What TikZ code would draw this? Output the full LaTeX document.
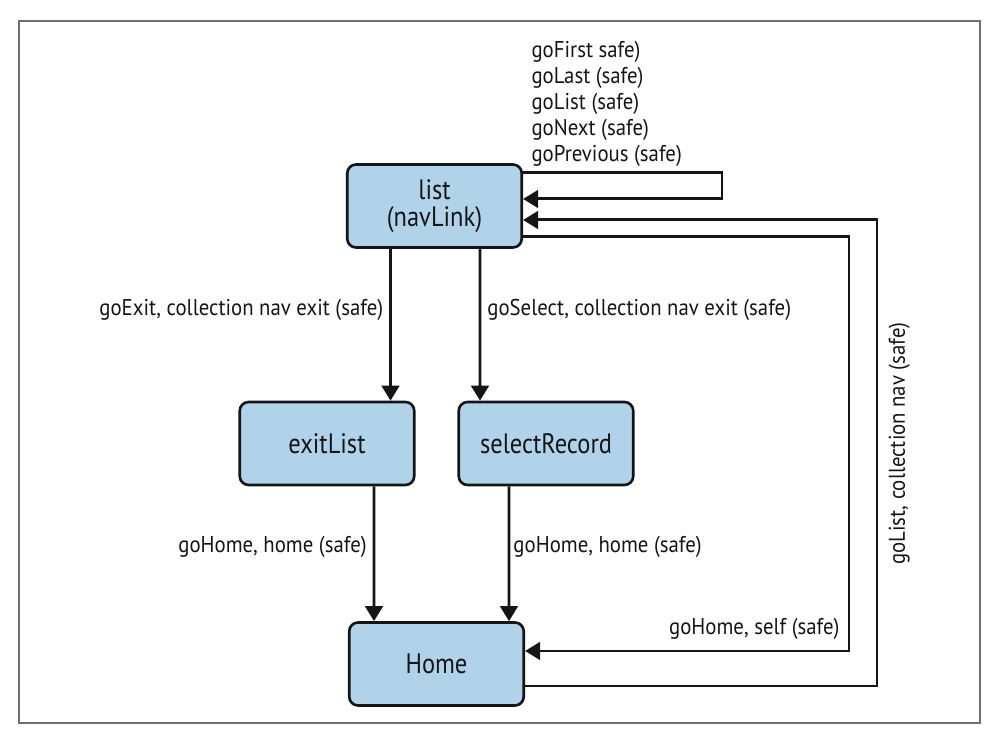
\documentclass[tikz,border=0pt]{standalone}
\usepackage{fontspec}
\setmainfont{PT Sans}
\newfontfamily\notefont[FakeStretch=0.91]{PT Sans}
\newfontfamily\boxfont[FakeStretch=0.87]{PT Sans}
\usetikzlibrary{arrows.meta, positioning}
\definecolor{cbox}{HTML}{B1D3EA}
\definecolor{cframe}{HTML}{6E6E6E}
\definecolor{cink}{HTML}{151515}
\tikzset{
  every picture/.style={line width=1.7pt},
  box/.style={draw=cink, fill=cbox, rounded corners=5pt, line width=1.5pt, align=center, minimum width=3.49cm, minimum height=1.66cm, font=\boxfont\fontsize{16}{15.6}\selectfont, text=cink},
  arrow/.style={-{Triangle[length=0.3cm, width=0.35cm]}, draw=cink, line width=1.7pt},
  note/.style={font=\notefont\fontsize{13}{14.8}\selectfont, text=cink},
}

\begin{document}
\begin{tikzpicture}
  \useasboundingbox (0,0) rectangle (19.96,-14.62);
  \draw[cframe, line width=1.1pt] (0.38,-0.42) rectangle (19.6,-14.46);
  \node[box] (list) at (8.69,-4.12) {list\\ (navLink)};
  \node[box] (exit) at (6.54,-8.87) {exitList};
  \node[box] (select) at (10.92,-8.87) {selectRecord};
  \node[box] (home) at (8.73,-13.28) {Home};
  \coordinate (loopR) at (14.44,-3.98);
  \coordinate (selfR) at (16.98,-13.02);
  \coordinate (navR) at (17.54,-4.40);
  \draw[arrow] ([xshift=-0.88cm]list.south) -- ([xshift=1.27cm]exit.north) node[pos=0.4, left, note] {goExit, collection nav exit (safe)};
  \draw[arrow] ([xshift=0.91cm]list.south) -- ([xshift=-1.32cm]select.north) node[pos=0.4, right, note] {goSelect, collection nav exit (safe)};
  \draw[arrow] ([xshift=0.94cm]exit.south) -- ([xshift=-1.25cm]home.north) node[pos=0.45, left, note] {goHome, home (safe)};
  \draw[arrow] ([xshift=-0.74cm]select.south) -- ([xshift=1.45cm]home.north) node[pos=0.45, right, note, inner sep=0.06cm] {goHome, home (safe)};
  \draw[arrow] ([yshift=0.66cm]list.east) node[note, anchor=south west, align=left, inner sep=0, xshift=0.14cm, yshift=0.1cm] {goFirst safe)\\ goLast (safe)\\ goList (safe)\\ goNext (safe)\\ goPrevious (safe)} -| (loopR) |- ([yshift=0.14cm]list.east);
  \draw[arrow] ([yshift=-0.62cm]list.east) -| (selfR) node[note, anchor=south east, inner sep=0, xshift=-0.16cm, yshift=0.2cm] {goHome, self (safe)} -- ([yshift=0.26cm]home.east);
  \draw[arrow] ([yshift=-0.44cm]home.east) -| (navR) node[note, pos=0.76, rotate=90, anchor=north, inner sep=0.2cm] {goList, collection nav (safe)} -- ([yshift=-0.28cm]list.east);
\end{tikzpicture}
\end{document}
